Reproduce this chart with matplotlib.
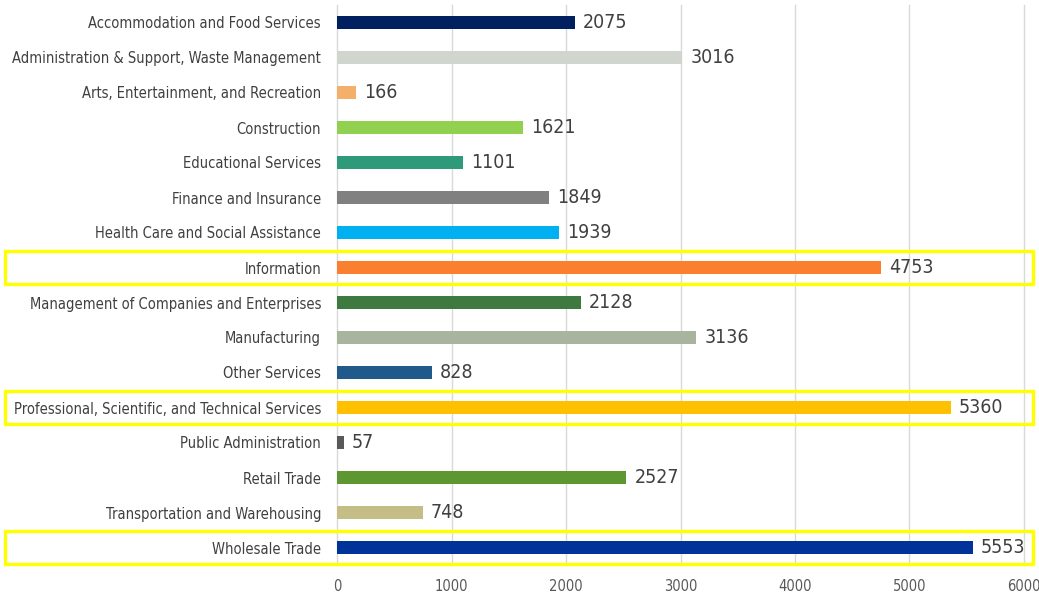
import matplotlib.pyplot as plt
from matplotlib.patches import Rectangle
import matplotlib.transforms as mtransforms

# --- Data ---
industries = [
    "Accommodation and Food Services",
    "Administration & Support, Waste Management",
    "Arts, Entertainment, and Recreation",
    "Construction",
    "Educational Services",
    "Finance and Insurance",
    "Health Care and Social Assistance",
    "Information",
    "Management of Companies and Enterprises",
    "Manufacturing",
    "Other Services",
    "Professional, Scientific, and Technical Services",
    "Public Administration",
    "Retail Trade",
    "Transportation and Warehousing",
    "Wholesale Trade",
]
counts = [2075, 3016, 166, 1621, 1101, 1849, 1939, 4753,
          2128, 3136, 828, 5360, 57, 2527, 748, 5553]
bar_colors = ["#002060", "#D0D5CE", "#F4B06A", "#92D050", "#2E9A7A", "#808080",
              "#00B0F0", "#FA7F2E", "#3E7A3F", "#A9B49E", "#1F5A8A", "#FFC000",
              "#595959", "#5E9632", "#C4BE86", "#003399"]
highlighted = ["Information", "Professional, Scientific, and Technical Services",
               "Wholesale Trade"]

FONT = dict(family="DejaVu Sans", stretch="condensed")

# --- Plot ---
fig = plt.figure(figsize=(10.39, 5.99), dpi=100)
ax = fig.add_axes([337 / 1039, 1 - 565 / 599, (1024 - 337) / 1039, 560 / 599])

ypos = list(range(len(industries)))
ax.barh(ypos, counts, height=0.37, color=bar_colors, zorder=3)

for y, v in zip(ypos, counts):
    ax.annotate(str(v), (v, y), xytext=(6, 0), textcoords="offset points",
                va="center", ha="left", fontsize=14, color="#404040", **FONT)

ax.set_ylim(len(industries) - 0.5, -0.5)
ax.set_xlim(0, 6000)
ax.set_xticks(range(0, 6001, 1000))
ax.set_yticks(ypos)
ax.set_yticklabels(industries, fontsize=10.5, color="#404040", **FONT)
ax.set_xticklabels([str(t) for t in range(0, 6001, 1000)], fontsize=10.5,
                   color="#595959", **FONT)
ax.tick_params(length=0)
ax.tick_params(axis="y", pad=11.5)
ax.tick_params(axis="x", pad=10)
ax.grid(axis="x", color="#D9D9D9", linewidth=1, zorder=0)
for gl in ax.get_xgridlines():
    gl.set_clip_on(False)
for s in ax.spines.values():
    s.set_visible(False)

# yellow highlight boxes: x in figure coords, y in data coords
trans = mtransforms.blended_transform_factory(fig.transFigure, ax.transData)
for name in highlighted:
    y = industries.index(name)
    ax.add_patch(Rectangle((5 / 1039, y - 0.47), 1028 / 1039, 0.94, transform=trans,
                           fill=False, edgecolor="#FFFF00", linewidth=2.4,
                           clip_on=False, zorder=5))

plt.savefig("out.png", dpi=100)
